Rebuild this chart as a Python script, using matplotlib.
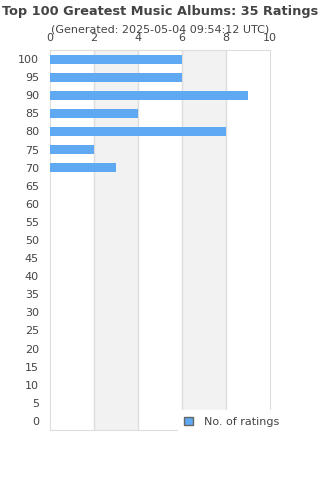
import numpy as np
import matplotlib
matplotlib.use('Agg')
import matplotlib.pyplot as plt
from matplotlib.patches import Patch

ranks = [100, 95, 90, 85, 80, 75, 70, 65, 60, 55, 50, 45, 40, 35, 30, 25, 20, 15, 10, 5, 0]
ratings = [6, 6, 9, 4, 8, 2, 3, 0, 0, 0, 0, 0, 0, 0, 0, 0, 0, 0, 0, 0, 0]
x_ticks = [0, 2, 4, 6, 8, 10]

bar_color = '#5fa8f2'
text_color = '#444444'
line_color = '#dddddd'

fig = plt.figure(figsize=(3.2, 4.8), dpi=100)
ax = fig.add_axes([50/320, 50/480, 220/320, 380/480])

y = np.arange(len(ranks))
ax.barh(y, ratings, height=0.5, color=bar_color, zorder=3)
ax.set_ylim(len(ranks) - 0.5, -0.5)
ax.set_xlim(0, 10)

# alternating background bands
for i in range(len(x_ticks) - 1):
    if i % 2 == 1:
        ax.axvspan(x_ticks[i], x_ticks[i + 1], color='#f2f2f2', zorder=0, lw=0)
for xt in x_ticks[1:-1]:
    ax.axvline(xt, color=line_color, lw=1, zorder=1)

ax.xaxis.tick_top()
ax.set_xticks(x_ticks)
ax.set_yticks(y)
ax.set_yticklabels([str(r) for r in ranks])
ax.tick_params(axis='both', length=0, labelsize=8, colors=text_color)
ax.tick_params(axis='x', pad=5)
ax.tick_params(axis='y', pad=8)
for s in ax.spines.values():
    s.set_color(line_color)

fig.text(0.5, 1 - 11/480, 'Top 100 Greatest Music Albums: 35 Ratings', ha='center', va='center',
         fontsize=9.3, fontweight='bold', color=text_color)
fig.text(0.5, 1 - 30/480, '(Generated: 2025-05-04 09:54:12 UTC)', ha='center', va='center',
         fontsize=8, color=text_color)

handle = Patch(facecolor=bar_color, edgecolor='#666666', lw=1)
leg = fig.legend([handle], ['No. of ratings'], loc='center left',
                 bbox_to_anchor=(172/320, 1 - 422/480), frameon=True, fontsize=8,
                 handlelength=0.8, handleheight=0.8, borderpad=0.6, handletextpad=1.0)
leg.get_frame().set_facecolor('white')
leg.get_frame().set_edgecolor('white')
leg.get_frame().set_alpha(1)
for t in leg.get_texts():
    t.set_color(text_color)

fig.savefig('out.png', dpi=100, facecolor='white')
